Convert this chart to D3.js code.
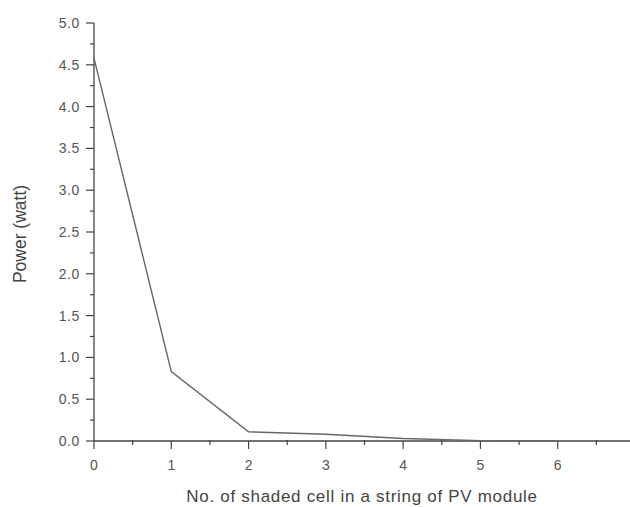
<!DOCTYPE html>
<html>
<head>
<meta charset="utf-8">
<script src="https://cdn.jsdelivr.net/npm/d3@7"></script>
<style>
  body { margin: 0; background: #fff; }
  svg { display: block; font-family: "Liberation Sans", Arial, sans-serif; }
</style>
</head>
<body>
<svg id="chart" width="630" height="507"></svg>
<script>
'use strict';

// shaded cells vs power
const shadedCells = [0, 1, 2, 3, 4, 5, 6];
const powerWatt = [4.58, 0.83, 0.11, 0.08, 0.03, 0.005, 0.0];
const xTicks = [0, 1, 2, 3, 4, 5, 6, 7];
const yTicks = [0, 0.5, 1, 1.5, 2, 2.5, 3, 3.5, 4, 4.5, 5];

const svg = d3.select('#chart');
const axisColor = '#444';

const x = d3.scaleLinear().domain([0, 7]).range([94, 635]);
const y = d3.scaleLinear().domain([0, 5]).range([441, 23]);

// y axis
const yAxis = svg.append('g').attr('transform', `translate(${x(0)},0)`);
yAxis.append('line')
    .attr('x1', 0).attr('x2', 0)
    .attr('y1', y(0)).attr('y2', y(5))
    .attr('stroke', axisColor).attr('stroke-width', 1.3);
yAxis.selectAll('line.minor')
    .data(d3.range(0.25, 5, 0.5))
    .join('line')
    .attr('class', 'minor')
    .attr('x1', -4).attr('x2', 0)
    .attr('y1', d => y(d)).attr('y2', d => y(d))
    .attr('stroke', axisColor).attr('stroke-width', 1.2);
yAxis.selectAll('line.major')
    .data(yTicks)
    .join('line')
    .attr('class', 'major')
    .attr('x1', -8).attr('x2', 0)
    .attr('y1', d => y(d)).attr('y2', d => y(d))
    .attr('stroke', axisColor).attr('stroke-width', 1.2);
yAxis.selectAll('text')
    .data(yTicks)
    .join('text')
    .attr('x', -14)
    .attr('y', d => y(d))
    .attr('dy', '0.36em')
    .attr('text-anchor', 'end')
    .attr('font-size', 14)
    .attr('letter-spacing', 0.6)
    .attr('fill', '#555')
    .text(d3.format('.1f'));

// x axis
const xAxis = svg.append('g').attr('transform', `translate(0,${y(0)})`);
xAxis.append('line')
    .attr('x1', x(0)).attr('x2', 630)
    .attr('y1', 0).attr('y2', 0)
    .attr('stroke', axisColor).attr('stroke-width', 1.3);
xAxis.selectAll('line.minor')
    .data(d3.range(0.5, 7, 1))
    .join('line')
    .attr('class', 'minor')
    .attr('x1', d => x(d)).attr('x2', d => x(d))
    .attr('y1', -1).attr('y2', 4)
    .attr('stroke', axisColor).attr('stroke-width', 1.2);
xAxis.selectAll('line.major')
    .data(xTicks)
    .join('line')
    .attr('class', 'major')
    .attr('x1', d => x(d)).attr('x2', d => x(d))
    .attr('y1', 0).attr('y2', 8)
    .attr('stroke', axisColor).attr('stroke-width', 1.2);
xAxis.selectAll('text')
    .data(xTicks)
    .join('text')
    .attr('x', d => x(d))
    .attr('y', 29)
    .attr('text-anchor', 'middle')
    .attr('font-size', 14)
    .attr('fill', '#555')
    .text(d => d);

// data line
svg.append('path')
    .datum(shadedCells.map((c, i) => [c, powerWatt[i]]))
    .attr('fill', 'none')
    .attr('stroke', '#666')
    .attr('stroke-width', 1.4)
    .attr('d', d3.line().x(d => x(d[0])).y(d => y(d[1])));

// titles
svg.append('text')
    .attr('transform', 'translate(26,234) rotate(-90)')
    .attr('text-anchor', 'middle')
    .attr('font-size', 17.5)
    .attr('fill', '#444')
    .text('Power (watt)');

svg.append('text')
    .attr('x', 362)
    .attr('y', 502)
    .attr('text-anchor', 'middle')
    .attr('font-size', 17)
    .attr('letter-spacing', 0.7)
    .attr('fill', '#444')
    .text('No. of shaded cell in a string of PV module');
</script>
</body>
</html>
